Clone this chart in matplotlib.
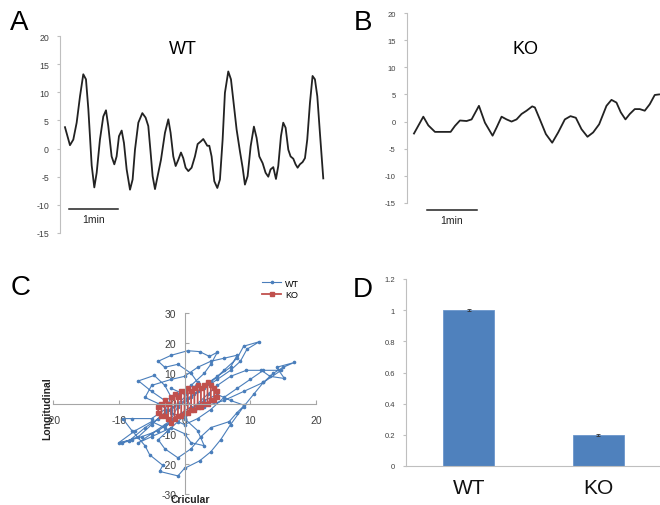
import matplotlib
matplotlib.use("Agg")
import matplotlib.pyplot as plt
from matplotlib.ticker import FuncFormatter

plt.rcParams['font.family'] = ['Liberation Sans', 'DejaVu Sans']
plt.rcParams['axes.unicode_minus'] = False

# ---------------- data ----------------
# Panel A: WT trace (time in s, amplitude)
wt_t = [0, 6.1, 10.2, 14.3, 18.4, 22.4, 25.7, 28.6, 32.7, 35.9, 38.8, 42.8, 46.9, 50.2,
        53.0, 57.1, 60.4, 63.2, 66.1, 69.4, 72.2, 75.5, 79.6, 82.8, 85.7, 89.8, 94.7,
        98.7, 102.0, 104.9, 107.3, 110.2, 113.4, 117.5, 122.4, 126.5, 129.3, 132.6,
        135.5, 138.7, 142.0, 144.8, 147.7, 151.0, 155.0, 159.1, 162.4, 166.5, 169.3,
        172.2, 174.2, 176.7, 179.5, 182.8, 186.5, 189.7, 193.0, 195.8, 199.9, 203.2,
        206.0, 210.1, 214.2, 217.5, 220.3, 223.6, 227.3, 231.3, 234.6, 237.9, 242.0,
        245.6, 248.9, 251.7, 255.0, 258.3, 261.1, 264.4, 267.2, 270.1, 273.4, 276.2,
        279.5, 282.3, 284.8, 287.6, 290.9, 293.8, 296.6, 299.9, 303.1, 306.0, 308.9,
        312.1, 316.2]
wt_v = [3.8, 0.6, 1.6, 4.6, 9.3, 13.2, 12.3, 7.0, -3.0, -6.9, -4.3, 1.6, 5.7, 6.8,
        4.0, -1.4, -2.8, -1.4, 2.2, 3.2, 1.0, -3.7, -7.3, -5.5, -0.2, 4.6, 6.3,
        5.5, 4.0, -0.8, -4.9, -7.2, -4.9, -2.0, 2.8, 5.2, 2.8, -1.4, -3.1, -2.0,
        -0.7, -1.7, -3.4, -4.0, -3.4, -1.4, 0.8, 1.3, 1.7, 1.0, 0.5, 0.5, -1.4,
        -5.8, -7.0, -5.5, 1.6, 9.9, 13.7, 12.3, 8.7, 3.4, -0.5, -3.4, -6.4, -4.9,
        0.4, 3.9, 1.9, -1.4, -2.6, -4.3, -5.0, -3.7, -3.3, -5.4, -3.1, 2.2, 4.6,
        3.7, -0.2, -1.4, -1.8, -2.8, -3.4, -2.8, -2.4, -1.7, 1.6, 8.1, 12.9, 12.3,
        9.3, 2.8, -5.3]

# Panel B: KO trace
ko_t = [0, 11.2, 17.2, 25.2, 35.2, 44, 49.2, 55.2, 63.2, 69.2, 78, 85.2, 94.4, 99.2,
        105.2, 111.2, 117.2, 123.2, 129.2, 135.2, 142, 145.2, 151.2, 158.4, 166,
        173.2, 181.2, 188, 194.4, 201.2, 208.4, 215.2, 222.4, 231.2, 237.2, 243.2,
        248.4, 254, 259.2, 265.2, 271.2, 277.2, 283.2, 289.2, 294.4]
ko_v = [-2.2, 0.9, -0.7, -1.9, -1.9, -1.9, -0.8, 0.2, 0.1, 0.4, 2.9, -0.2, -2.6, -1.1,
        0.9, 0.4, 0.0, 0.4, 1.4, 2.0, 2.8, 2.6, 0.4, -2.3, -3.9, -2.0, 0.4, 1.0, 0.7,
        -1.4, -2.8, -2.0, -0.5, 2.9, 4.0, 3.5, 1.7, 0.4, 1.4, 2.3, 2.3, 2.0, 3.2,
        4.9, 5.0]

# Panel C: trajectories (Cricular, Longitudinal)
wt_cx = [0, 1.5, 3, 5, 7, 8.5, 9.5, 11.4, 9, 8, 6, 4, 2, 0, -2, -4, -6, -8.5, -9.5, -7,
         -5, -3, -1, 1, 2, 1, -1, -3, -4, -2, 0.5, 2.3, 3.8, 5, 4, 3, 1, -1, -3, -5,
         -7, -4.6, -3, -2, -3, -5, -8, -9.4, -8, -6, -5.3, -3.3, -3.8, -1, 0, 2.3, 4,
         5.5, 7, 9, 10.5, 12, 13.5, 15, 16.7, 14, 15.2, 13, 11.7, 9.4, 7, 5, 3.5, 2,
         0.5, -1, -2.5, -4, -3, -1, 1, 2.5, 4, 6.8, 8, 9.1, 7, 5, 3, 1, -1, -3, -5,
         -7, -5, -2, 0, 1, 3, 2, 0, -2, -4, -6, -5, -2, 0, 2, 4, 6, 8, 7, 5, 3, 1,
         -1, -2, 0, 2, 4, 6, 8, 10, 12, 14.7, 12, 9, 6, 3, 0, -2, -4, -6.5, -8, -10,
         -7.5, -5, -3, -1, 1, 0, -2]
wt_cy = [0, 3, 5, 8, 11, 14, 18, 20.5, 19, 15, 11, 7, 4, 1, -2, -5, -8, -12.5, -13, -11,
         -7, -3, 0, 4, 7, 10, 13, 12, 14, 16, 17.5, 17.2, 15.6, 17, 13, 10, 6, 3, 1, 4,
         7.5, 9.3, 6, 2, -2, -5, -5, -5, -9, -14, -17, -20.5, -22.5, -24, -21.5, -19,
         -16, -12, -7, -1, 3, 7, 10, 12, 13.6, 12, 8.3, 9, 11, 11, 9, 6, 3, 0, -3, -6,
         -9, -12, -15, -18, -15, -11, -8, -6, -3, -0.6, 1, 3, 1, -2, -4, -7, -10, -13,
         -11, -8, -10, -13, -14, -9, -5, -3, 0, 2, 6, 8, 9, 12, 14, 15, 16, 12, 9, 6,
         2, -1, -5, -7, -5, -2, 2, 5, 8, 11, 11, 7, 4, 1, -1, -4, -6, -9, -11, -12,
         -13, -9, -6, -8, -4, -1, 3, 5]
ko_cx = [-4, -4, -3.5, -3.5, -3, -3, -2.5, -2.5, -2, -2, -1.5, -1.5, -1, -1, -0.5, -0.5,
         0, 0, 0.5, 0.5, 1, 1, 1.5, 1.5, 2, 2, 2.5, 2.5, 3, 3, 3.5, 3.5, 4, 4, 4.5, 4.5,
         5, 5]
ko_cy = [-3, -1, 0, -4, -4, 1, 0, -5, -6.5, 2, 3, -5, -4, 2, 4, -4, -3, 4, 5, -3, -2, 4,
         5, -2, -1, 6, 5, -1, 0, 6, 7, 0, 1, 6, 5, 1, 2, 4]

# Panel D: bars
d_cats = ['WT', 'KO']
d_vals = [1.0, 0.2]
d_errs = [0.005, 0.005]

# ---------------- figure ----------------
W, H = 660, 506
fig = plt.figure(figsize=(W / 100, H / 100), dpi=100)


def px_axes(left, top, right, bottom):
    return fig.add_axes([left / W, 1 - bottom / H, (right - left) / W, (bottom - top) / H])


def ftext(x, y, s, **kw):
    fig.text(x / W, 1 - y / H, s, **kw)


gray = '#bfbfbf'
tcol = '#404040'

# Panel A
axA = px_axes(60, 37, 328, 234)
axA.plot(wt_t, wt_v, color='#222222', lw=1.3, solid_joinstyle='round')
axA.set_xlim(-6.1, 322)
axA.set_ylim(-15, 20)
axA.set_yticks(range(-15, 25, 5))
axA.set_xticks([])
for s in ['top', 'right', 'bottom']:
    axA.spines[s].set_visible(False)
axA.spines['left'].set_color(gray)
axA.tick_params(axis='y', length=2, color=gray, labelsize=6.3, labelcolor=tcol, pad=6)
axA.plot([5, 65], [-10.8, -10.8], color='#222222', lw=1.1, clip_on=False)
axA.text(35, -12.6, '1min', ha='center', va='center', fontsize=7.5, color='#222222')

# Panel B
axB = px_axes(407, 14, 660, 204)
axB.plot(ko_t, ko_v, color='#222222', lw=1.3, clip_on=False, solid_joinstyle='round')
axB.set_xlim(-8.4, 295.5)
axB.set_ylim(-15, 20)
axB.set_yticks(range(-15, 25, 5))
axB.set_xticks([])
for s in ['top', 'right', 'bottom']:
    axB.spines[s].set_visible(False)
axB.spines['left'].set_color(gray)
axB.tick_params(axis='y', length=2, color=gray, labelsize=5.5, labelcolor=tcol, pad=6)
axB.plot([15.6, 75.6], [-16.2, -16.2], color='#222222', lw=1.1, clip_on=False)
axB.text(45.6, -18.2, '1min', ha='center', va='center', fontsize=7.5, color='#222222')

# Panel C
axC = px_axes(53, 314, 316, 495)
lw_, = axC.plot(wt_cx, wt_cy, color='#4a7ebb', lw=0.8, marker='o', ms=1.6, label='WT')
lk_, = axC.plot(ko_cx, ko_cy, color='#c0504d', lw=1.3, marker='s', ms=2.2, label='KO')
axC.set_xlim(-20, 20)
axC.set_ylim(-30, 30)
axC.set_xticks([-20, -10, 0, 10, 20])
axC.set_yticks([-30, -20, -10, 0, 10, 20, 30])
for s in ['top', 'right']:
    axC.spines[s].set_visible(False)
axC.spines['left'].set_position('zero')
axC.spines['bottom'].set_position('zero')
axC.spines['left'].set_color('#a6a6a6')
axC.spines['bottom'].set_color('#a6a6a6')
axC.tick_params(axis='x', direction='in', length=3, color='#a6a6a6', labelsize=7.5,
                labelcolor=tcol, pad=8)
axC.tick_params(axis='y', direction='in', length=3, color='#a6a6a6', labelsize=7.5,
                labelcolor=tcol, pad=6)
for lab in axC.get_xticklabels() + axC.get_yticklabels():
    lab.set_zorder(5)
fig.legend(handles=[lw_, lk_], labels=['WT', 'KO'], loc='upper left',
           bbox_to_anchor=(258 / W, 1 - 276 / H), frameon=False, fontsize=6.5,
           handlelength=2.2, labelspacing=0.25, handletextpad=0.4, borderaxespad=0)
ftext(47, 409, 'Longitudinal', rotation=90, ha='center', va='center', fontsize=7.5,
      fontweight='bold', color='#222222')
ftext(190, 500, 'Cricular', ha='center', va='center', fontsize=7.5,
      fontweight='bold', color='#222222')

# Panel D
axD = px_axes(406, 280, 660, 467)
xs = list(range(len(d_cats)))
axD.bar(xs, d_vals, width=0.395, color='#4f81bd', edgecolor='#6b96cc', lw=0.6,
        yerr=d_errs, error_kw=dict(ecolor='#333333', elinewidth=0.6, capsize=1.5,
                                   capthick=0.6))
axD.set_xlim(-0.488, 1.48)
axD.set_ylim(0, 1.2)
axD.set_yticks([0, 0.2, 0.4, 0.6, 0.8, 1.0, 1.2])
axD.yaxis.set_major_formatter(FuncFormatter(lambda v, p: f'{v:g}'))
axD.set_xticks(xs)
axD.set_xticklabels(d_cats)
for s in ['top', 'right']:
    axD.spines[s].set_visible(False)
axD.spines['left'].set_color(gray)
axD.spines['bottom'].set_color(gray)
axD.tick_params(axis='y', length=2, color=gray, labelsize=5.5, labelcolor=tcol, pad=6)
axD.tick_params(axis='x', length=0, labelsize=15, labelcolor='#111111', pad=9)

# titles and panel letters
ftext(183, 50, 'WT', ha='center', va='center', fontsize=13)
ftext(525, 50, 'KO', ha='center', va='center', fontsize=13)
for (x, y, s) in [(19, 23, 'A'), (363, 23, 'B'), (21, 288, 'C'), (363, 290, 'D')]:
    ftext(x, y, s, ha='center', va='center', fontsize=20)

fig.savefig('out.png', dpi=100)
